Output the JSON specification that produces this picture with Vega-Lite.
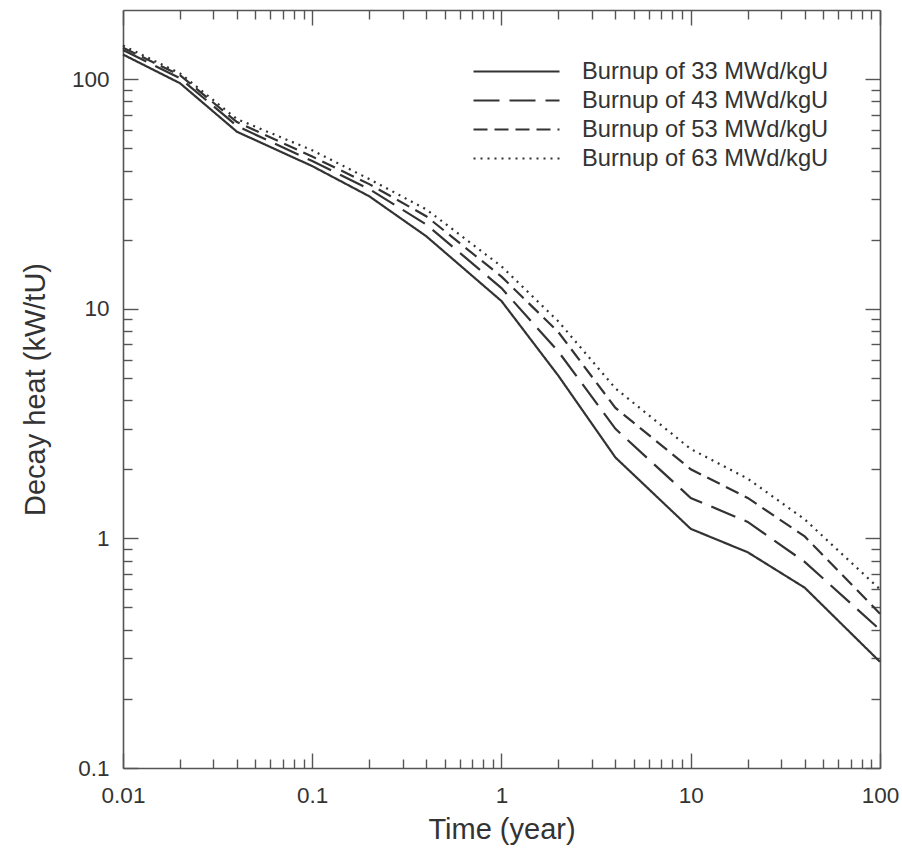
{
  "$schema": "https://vega.github.io/schema/vega-lite/v6.json",
  "width": 757,
  "height": 758,
  "autosize": {"type": "none"},
  "padding": {"left": 123, "top": 10, "right": 22, "bottom": 81},
  "background": "white",
  "config": {
    "view": {"stroke": null},
    "font": "Liberation Sans",
    "axis": {
      "grid": false,
      "domainColor": "#555",
      "domainWidth": 1.6,
      "tickColor": "#555",
      "tickWidth": 1.4,
      "labelFont": "Liberation Sans",
      "labelFontSize": 22.5,
      "labelColor": "#333",
      "titleFont": "Liberation Sans",
      "titleFontSize": 29,
      "titleFontWeight": "normal",
      "titleColor": "#333"
    }
  },
  "data": {
    "values": [
      {"t": 0.01, "series": "Burnup of 33 MWd/kgU", "heat": 128},
      {"t": 0.02, "series": "Burnup of 33 MWd/kgU", "heat": 96},
      {"t": 0.04, "series": "Burnup of 33 MWd/kgU", "heat": 59},
      {"t": 0.1, "series": "Burnup of 33 MWd/kgU", "heat": 41.8},
      {"t": 0.2, "series": "Burnup of 33 MWd/kgU", "heat": 30.9},
      {"t": 0.4, "series": "Burnup of 33 MWd/kgU", "heat": 20.7},
      {"t": 1, "series": "Burnup of 33 MWd/kgU", "heat": 10.8},
      {"t": 2, "series": "Burnup of 33 MWd/kgU", "heat": 5.1},
      {"t": 4, "series": "Burnup of 33 MWd/kgU", "heat": 2.25},
      {"t": 10, "series": "Burnup of 33 MWd/kgU", "heat": 1.1},
      {"t": 20, "series": "Burnup of 33 MWd/kgU", "heat": 0.87},
      {"t": 40, "series": "Burnup of 33 MWd/kgU", "heat": 0.61},
      {"t": 100, "series": "Burnup of 33 MWd/kgU", "heat": 0.29},
      {"t": 0.01, "series": "Burnup of 43 MWd/kgU", "heat": 134},
      {"t": 0.02, "series": "Burnup of 43 MWd/kgU", "heat": 101},
      {"t": 0.04, "series": "Burnup of 43 MWd/kgU", "heat": 62.5},
      {"t": 0.1, "series": "Burnup of 43 MWd/kgU", "heat": 44},
      {"t": 0.2, "series": "Burnup of 43 MWd/kgU", "heat": 33.2},
      {"t": 0.4, "series": "Burnup of 43 MWd/kgU", "heat": 23.3},
      {"t": 1, "series": "Burnup of 43 MWd/kgU", "heat": 12.3},
      {"t": 2, "series": "Burnup of 43 MWd/kgU", "heat": 6.5},
      {"t": 4, "series": "Burnup of 43 MWd/kgU", "heat": 3.0},
      {"t": 10, "series": "Burnup of 43 MWd/kgU", "heat": 1.5},
      {"t": 20, "series": "Burnup of 43 MWd/kgU", "heat": 1.18},
      {"t": 40, "series": "Burnup of 43 MWd/kgU", "heat": 0.79},
      {"t": 100, "series": "Burnup of 43 MWd/kgU", "heat": 0.4},
      {"t": 0.01, "series": "Burnup of 53 MWd/kgU", "heat": 137},
      {"t": 0.02, "series": "Burnup of 53 MWd/kgU", "heat": 104},
      {"t": 0.04, "series": "Burnup of 53 MWd/kgU", "heat": 65},
      {"t": 0.1, "series": "Burnup of 53 MWd/kgU", "heat": 46},
      {"t": 0.2, "series": "Burnup of 53 MWd/kgU", "heat": 34.9},
      {"t": 0.4, "series": "Burnup of 53 MWd/kgU", "heat": 25.3},
      {"t": 1, "series": "Burnup of 53 MWd/kgU", "heat": 13.8},
      {"t": 2, "series": "Burnup of 53 MWd/kgU", "heat": 7.9},
      {"t": 4, "series": "Burnup of 53 MWd/kgU", "heat": 3.7},
      {"t": 10, "series": "Burnup of 53 MWd/kgU", "heat": 2.0},
      {"t": 20, "series": "Burnup of 53 MWd/kgU", "heat": 1.5},
      {"t": 40, "series": "Burnup of 53 MWd/kgU", "heat": 1.02},
      {"t": 100, "series": "Burnup of 53 MWd/kgU", "heat": 0.47},
      {"t": 0.01, "series": "Burnup of 63 MWd/kgU", "heat": 140},
      {"t": 0.02, "series": "Burnup of 63 MWd/kgU", "heat": 106},
      {"t": 0.04, "series": "Burnup of 63 MWd/kgU", "heat": 67},
      {"t": 0.1, "series": "Burnup of 63 MWd/kgU", "heat": 49},
      {"t": 0.2, "series": "Burnup of 63 MWd/kgU", "heat": 36.7},
      {"t": 0.4, "series": "Burnup of 63 MWd/kgU", "heat": 27.1},
      {"t": 1, "series": "Burnup of 63 MWd/kgU", "heat": 15.3},
      {"t": 2, "series": "Burnup of 63 MWd/kgU", "heat": 8.8},
      {"t": 4, "series": "Burnup of 63 MWd/kgU", "heat": 4.5},
      {"t": 10, "series": "Burnup of 63 MWd/kgU", "heat": 2.45},
      {"t": 20, "series": "Burnup of 63 MWd/kgU", "heat": 1.82},
      {"t": 40, "series": "Burnup of 63 MWd/kgU", "heat": 1.21},
      {"t": 100, "series": "Burnup of 63 MWd/kgU", "heat": 0.6}
    ]
  },
  "resolve": {"axis": {"x": "independent", "y": "independent"}},
  "layer": [
    {
      "mark": {"type": "line", "color": "#333", "strokeWidth": 2.2},
      "encoding": {
        "x": {
          "field": "t", "type": "quantitative",
          "scale": {"type": "log", "domain": [0.01, 100], "nice": false},
          "axis": {"orient": "bottom", "values": [0.01, 0.1, 1, 10, 100], "format": "~g", "tickSize": -15, "labelPadding": 31, "title": "Time (year)", "titlePadding": 9, "labelFlush": false}
        },
        "y": {
          "field": "heat", "type": "quantitative",
          "scale": {"type": "log", "domain": [0.1, 200], "nice": false},
          "axis": {"orient": "left", "values": [0.1, 1, 10, 100], "format": "~g", "tickSize": -15, "labelPadding": 29, "title": "Decay heat (kW/tU)", "titlePadding": 21, "labelFlush": false}
        },
        "strokeDash": {
          "field": "series", "type": "nominal",
          "scale": {
            "domain": ["Burnup of 33 MWd/kgU", "Burnup of 43 MWd/kgU", "Burnup of 53 MWd/kgU", "Burnup of 63 MWd/kgU"],
            "range": [[1, 0], [26, 10], [14, 7], [2, 5]]
          },
          "legend": {
            "orient": "none", "legendX": 349, "legendY": 47, "title": null,
            "symbolType": "stroke", "symbolSize": 7396, "symbolStrokeWidth": 2.2, "symbolStrokeColor": "#333",
            "labelFontSize": 23.7, "labelFont": "Liberation Sans", "labelColor": "#333", "labelOffset": 21, "labelLimit": 400,
            "clipHeight": 29, "rowPadding": 0, "padding": 0
          }
        }
      }
    },
    {
      "mark": {"type": "point", "opacity": 0},
      "encoding": {
        "x": {"field": "t", "type": "quantitative", "axis": {"orient": "bottom", "values": [0.02,0.03,0.04,0.05,0.06,0.07,0.08,0.09,0.2,0.3,0.4,0.5,0.6,0.7,0.8,0.9,2,3,4,5,6,7,8,9,20,30,40,50,60,70,80,90], "tickSize": -9, "labels": false, "domain": false, "title": null}},
        "y": {"field": "heat", "type": "quantitative", "axis": {"orient": "left", "values": [0.2,0.3,0.4,0.5,0.6,0.7,0.8,0.9,2,3,4,5,6,7,8,9,20,30,40,50,60,70,80,90], "tickSize": -9, "labels": false, "domain": false, "title": null}}
      }
    },
    {
      "mark": {"type": "point", "opacity": 0},
      "encoding": {
        "x": {"field": "t", "type": "quantitative", "axis": {"orient": "top", "values": [0.01, 0.1, 1, 10, 100], "tickSize": -15, "labels": false, "title": null}},
        "y": {"field": "heat", "type": "quantitative", "axis": {"orient": "right", "values": [0.1, 1, 10, 100], "tickSize": -15, "labels": false, "title": null}}
      }
    },
    {
      "mark": {"type": "point", "opacity": 0},
      "encoding": {
        "x": {"field": "t", "type": "quantitative", "axis": {"orient": "top", "values": [0.02,0.03,0.04,0.05,0.06,0.07,0.08,0.09,0.2,0.3,0.4,0.5,0.6,0.7,0.8,0.9,2,3,4,5,6,7,8,9,20,30,40,50,60,70,80,90], "tickSize": -9, "labels": false, "domain": false, "title": null}},
        "y": {"field": "heat", "type": "quantitative", "axis": {"orient": "right", "values": [0.2,0.3,0.4,0.5,0.6,0.7,0.8,0.9,2,3,4,5,6,7,8,9,20,30,40,50,60,70,80,90], "tickSize": -9, "labels": false, "domain": false, "title": null}}
      }
    }
  ]
}
